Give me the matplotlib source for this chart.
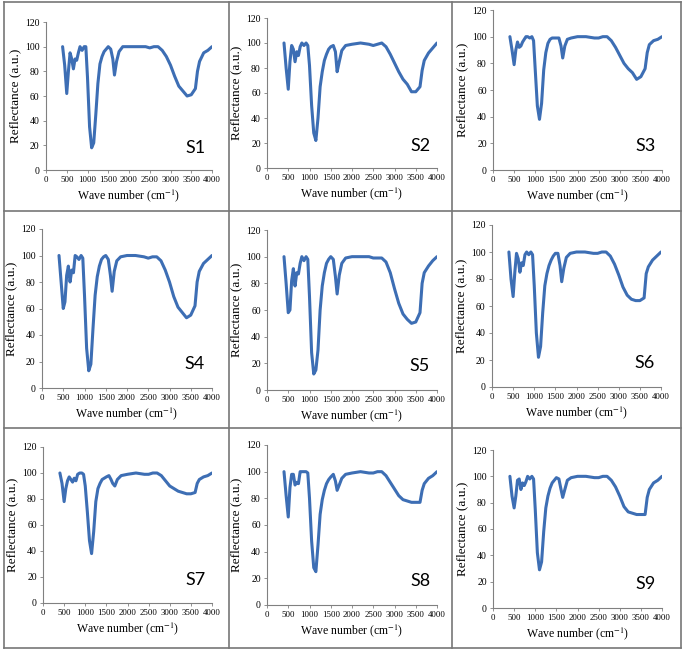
import matplotlib
matplotlib.use('Agg')
import matplotlib.pyplot as plt
from matplotlib.lines import Line2D

plt.rcParams['font.family'] = 'Liberation Serif'
plt.rcParams['mathtext.fontset'] = 'stix'

# wave numbers (cm-1) shared by all spectra
wavenumber = [400, 450, 500, 540, 580, 620, 660, 700, 740, 780, 820, 870, 920, 960,
              1000, 1050, 1100, 1150, 1200, 1250, 1300, 1350, 1400, 1450, 1500, 1560,
              1610, 1650, 1700, 1760, 1850, 2000, 2200, 2400, 2500, 2600, 2700, 2800,
              2900, 3000, 3100, 3200, 3300, 3400, 3500, 3600, 3650, 3700, 3800, 3900, 4000]

# reflectance (a.u.)
s1 = [100, 85, 62, 80, 95, 90, 82, 90, 89, 95, 100, 97, 100, 100,
      75, 35, 18, 22, 45, 70, 86, 92, 96, 98, 100, 98,
      90, 77, 88, 96, 100, 100, 100, 100, 99, 100, 100, 97,
      92, 85, 76, 68, 64, 60, 61, 66, 80, 88, 95, 97, 100]
s2 = [100, 80, 63, 85, 98, 95, 85, 93, 90, 97, 100, 98, 100, 98,
      82, 50, 28, 22, 40, 65, 77, 86, 91, 95, 97, 98,
      93, 77, 85, 94, 98, 99, 100, 99, 98, 99, 100, 97,
      91, 84, 77, 71, 67, 61, 61, 65, 78, 86, 92, 96, 100]
s3 = [100, 90, 79, 90, 96, 92, 93, 96, 98, 100, 100, 99, 100, 97,
      75, 48, 38, 50, 75, 88, 95, 98, 99, 99, 99, 99,
      93, 84, 93, 98, 99, 100, 100, 99, 99, 100, 100, 97,
      92, 86, 80, 76, 73, 68, 70, 76, 88, 94, 97, 98, 100]
s4 = [100, 80, 60, 65, 85, 92, 80, 89, 87, 100, 99, 97, 100, 98,
      70, 30, 13, 18, 45, 70, 84, 92, 97, 99, 100, 97,
      85, 73, 88, 96, 99, 100, 100, 99, 98, 99, 99, 96,
      89, 80, 69, 61, 57, 53, 55, 62, 80, 88, 94, 97, 100]
s5 = [100, 80, 58, 60, 82, 91, 78, 88, 87, 95, 100, 97, 100, 98,
      70, 28, 12, 15, 30, 60, 78, 88, 95, 98, 100, 98,
      85, 72, 86, 95, 99, 100, 100, 100, 99, 99, 99, 96,
      88, 76, 65, 57, 53, 50, 51, 58, 80, 88, 93, 97, 100]
s6 = [100, 80, 67, 85, 99, 95, 85, 92, 90, 98, 100, 98, 100, 98,
      75, 40, 22, 30, 55, 75, 84, 90, 94, 97, 99, 99,
      90, 78, 88, 96, 99, 100, 100, 99, 99, 100, 100, 97,
      91, 83, 74, 68, 65, 64, 64, 66, 84, 89, 94, 97, 100]
s7 = [100, 92, 78, 88, 94, 97, 95, 93, 96, 94, 99, 100, 100, 99,
      90, 70, 48, 38, 55, 78, 88, 92, 95, 96, 97, 98,
      95, 92, 90, 95, 98, 99, 100, 99, 99, 100, 100, 98,
      94, 90, 88, 86, 85, 84, 84, 85, 92, 95, 97, 98, 100]
s8 = [100, 82, 66, 88, 98, 98, 90, 92, 91, 100, 100, 100, 100, 99,
      80, 48, 28, 25, 45, 68, 79, 86, 91, 94, 96, 98,
      93, 86, 90, 95, 98, 99, 100, 99, 99, 100, 100, 97,
      92, 87, 82, 79, 78, 77, 77, 77, 86, 91, 95, 97, 100]
s9 = [100, 85, 76, 85, 97, 98, 90, 95, 93, 96, 100, 98, 100, 98,
      75, 42, 29, 35, 58, 76, 85, 91, 95, 97, 99, 98,
      90, 84, 90, 97, 99, 100, 100, 99, 99, 100, 100, 97,
      92, 85, 77, 73, 72, 71, 71, 71, 84, 90, 95, 97, 100]

names = ['S1', 'S2', 'S3', 'S4', 'S5', 'S6', 'S7', 'S8', 'S9']
spectra = [s1, s2, s3, s4, s5, s6, s7, s8, s9]

W, H = 685, 652
fig = plt.figure(figsize=(W / 100, H / 100), dpi=100)
fig.patch.set_facecolor('white')

# pixel box of each plot area: x at 0, x at 4000, y at 0, y at 120
boxes = [(46, 212, 170, 22), (267, 437, 168, 18), (493, 662, 170, 10),
         (42, 212, 388, 229), (267, 437, 390, 230), (492, 661, 387, 225),
         (43, 212, 603, 447), (267, 437, 605, 445), (493, 662, 608, 450)]

line_color = '#3d6eb4'
axis_color = '#808080'

for name, vals, (x0, x1, y0, y1) in zip(names, spectra, boxes):
    ax = fig.add_axes([x0 / W, 1 - y0 / H, (x1 - x0) / W, (y0 - y1) / H])
    ax.plot(wavenumber, vals, color=line_color, lw=2.2, solid_capstyle='round',
            solid_joinstyle='round')
    ax.set_xlim(0, 4000)
    ax.set_ylim(0, 120)
    ax.set_xticks(range(0, 4001, 500))
    ax.set_yticks(range(0, 121, 20))
    for side in ['top', 'right']:
        ax.spines[side].set_visible(False)
    for side in ['left', 'bottom']:
        ax.spines[side].set_color(axis_color)
        ax.spines[side].set_linewidth(0.8)
    ax.tick_params(length=2.5, width=0.6, color=axis_color, pad=2)
    ax.tick_params(axis='y', labelsize=7)
    ax.tick_params(axis='x', labelsize=6.3)
    ax.set_ylabel('Reflectance (a.u.)', fontsize=9.5, labelpad=3)
    ax.set_xlabel('Wave number (cm$^{-1}$)', fontsize=8.5, labelpad=2)
    ax.text(3600, 18, name, fontfamily='Lato', fontsize=13, ha='center', va='center')

# table-like cell borders
border = '#777777'
def hline(y, xa=4, xb=681):
    fig.add_artist(Line2D([xa / W, xb / W], [1 - y / H, 1 - y / H], color=border, lw=1.2))
def vline(x, ya=2, yb=648):
    fig.add_artist(Line2D([x / W, x / W], [1 - ya / H, 1 - yb / H], color=border, lw=1.2))

for y in [2, 211, 428, 648]:
    hline(y)
for x in [4, 229, 452, 681]:
    vline(x)

fig.savefig('out.png', dpi=100)
